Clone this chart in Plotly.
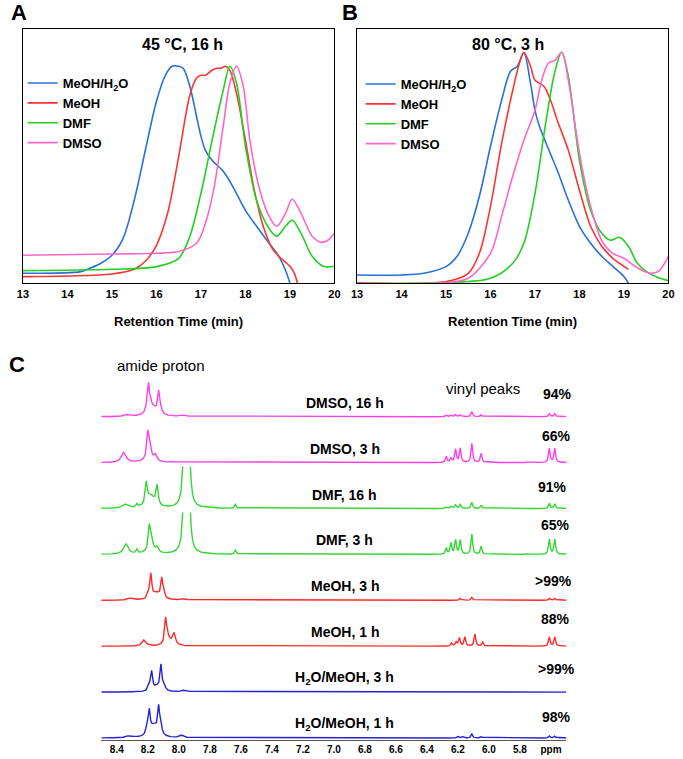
import numpy as np
import plotly.graph_objects as go

W, H = 683, 759
FONT = "Liberation Sans, Arial, sans-serif"

# ---------------- GPC data (retention time in min, detector signal in a.u.) ----------------
GPC_A_LEGEND = ["MeOH/H<sub>2</sub>O", "MeOH", "DMF", "DMSO"]
GPC_COLORS = ["#2a70d6", "#ff3333", "#22d022", "#ff66c8"]

A_BLUE_T = [13.0, 14.3, 14.5, 14.75, 15.0, 15.25, 15.5, 15.75, 16.0, 16.2, 16.35, 16.5, 16.6, 16.75, 16.9,
            17.0, 17.1, 17.25, 17.5, 17.7, 18.0, 18.25, 18.5, 18.75, 18.9, 19.0]
A_BLUE_S = [10, 11.7, 15, 20, 28, 45, 83, 133, 182, 208, 217, 217, 215, 197, 167,
            147, 133, 123, 112, 98, 73, 57, 42, 27, 13, 0]
A_RED_T = [13.0, 14.0, 15.0, 15.5, 15.75, 16.0, 16.25, 16.5, 16.75, 16.9, 17.0, 17.1, 17.25, 17.35, 17.45,
           17.55, 17.65, 17.8, 18.0, 18.2, 18.4, 18.6, 18.75, 19.0, 19.1, 19.17]
A_RED_S = [6.7, 7.3, 9.3, 14, 22, 38, 70, 127, 188, 205, 208, 208, 213, 215, 215,
           217, 213, 190, 143, 93, 57, 35, 27, 17, 10, 0]
A_GREEN_T = [13.0, 15.0, 16.0, 16.5, 16.75, 17.0, 17.25, 17.5, 17.65, 17.8, 18.0, 18.25, 18.5, 18.7,
             18.9, 19.05, 19.25, 19.5, 19.75, 20.0]
A_GREEN_S = [12.7, 14, 16.7, 25, 47, 90, 143, 193, 217, 200, 137, 83, 57, 47,
             57, 63, 50, 27, 17, 17]
A_PINK_T = [13.0, 15.0, 16.0, 16.5, 16.9, 17.1, 17.3, 17.5, 17.65, 17.8, 17.95, 18.1, 18.3, 18.5, 18.7,
            18.9, 19.05, 19.25, 19.5, 19.7, 19.85, 20.0]
A_PINK_S = [28, 29.3, 30, 31.7, 40, 60, 97, 157, 200, 217, 197, 143, 97, 70, 57,
            70, 84, 70, 47, 41, 43, 50]

B_BLUE_T = [13.0, 14.0, 14.5, 15.0, 15.25, 15.5, 15.75, 16.0, 16.25, 16.45, 16.6, 16.75, 16.9, 17.0,
            17.1, 17.25, 17.5, 17.75, 18.0, 18.25, 18.5, 18.75, 19.0, 19.1]
B_BLUE_S = [8.3, 8.3, 10, 16.7, 27, 50, 87, 137, 183, 212, 217, 230, 200, 173,
            157, 140, 113, 83, 57, 40, 27, 17, 6.7, 0]
B_RED_T = [13.0, 15.0, 15.5, 15.75, 16.0, 16.25, 16.5, 16.65, 16.75, 16.9, 17.0, 17.2, 17.35, 17.5,
           17.75, 18.0, 18.25, 18.5, 18.75, 19.0, 19.1]
B_RED_S = [0.7, 1.7, 10, 30, 77, 140, 193, 220, 231, 217, 203, 197, 183, 163,
           133, 93, 57, 37, 25, 17, 14]
B_GREEN_T = [13.0, 15.0, 16.0, 16.5, 16.75, 17.0, 17.25, 17.45, 17.6, 17.75, 18.0, 18.25, 18.5, 18.7,
             18.9, 19.1, 19.3, 19.5, 19.75, 20.0]
B_GREEN_S = [0, 0.7, 5, 20, 40, 90, 163, 212, 231, 207, 123, 73, 50, 43,
             46, 37, 20, 12, 6, 2.7]
B_PINK_T = [13.0, 15.0, 15.5, 16.0, 16.25, 16.5, 16.75, 17.0, 17.15, 17.3, 17.45, 17.6, 17.75, 18.0,
            18.25, 18.5, 18.75, 19.0, 19.25, 19.5, 19.65, 19.8, 20.0]
B_PINK_S = [0, 0.7, 5, 30, 67, 107, 143, 173, 203, 220, 223, 231, 203, 130,
            77, 43, 30, 25, 17, 11, 10, 13, 27]

GPC_TICKS = [13, 14, 15, 16, 17, 18, 19, 20]

# ---------------- NMR data: peaks as (ppm, height, half-width) ----------------
NMR_LABELS = ["H<sub>2</sub>O/MeOH, 1 h", "H<sub>2</sub>O/MeOH, 3 h", "MeOH, 1 h", "MeOH, 3 h",
              "DMF, 3 h", "DMF, 16 h", "DMSO, 3 h", "DMSO, 16 h"]
NMR_PERCENT = ["98%", ">99%", "88%", ">99%", "65%", "91%", "66%", "94%"]
NMR_COLORS = ["#2222d8", "#2222d8", "#ff2a2a", "#ff2a2a", "#33d633", "#33d633", "#ff3ee6", "#ff3ee6"]

PEAKS_H2O_1H = [(8.32, 2, 0.02), (8.16, 12, 0.03), (8.19, 21.5, 0.007), (8.13, 25.5, 0.007),
                (8.205, 8, 0.008), (8.115, 8, 0.008), (7.98, 2.5, 0.015),
                (6.2, 1.5, 0.006), (6.17, 1.5, 0.006), (6.11, 4, 0.006), (6.05, 1.5, 0.006),
                (5.61, 2, 0.006), (5.575, 2, 0.006)]
PEAKS_H2O_3H = [(8.14, 5, 0.03), (8.175, 18, 0.007), (8.115, 24, 0.007), (8.19, 5, 0.008),
                (8.095, 6, 0.008), (7.96, 2, 0.02)]
PEAKS_MEOH_1H = [(8.225, 6, 0.015), (8.085, 23, 0.007), (8.075, 6, 0.012), (8.03, 11, 0.01),
                 (8.06, 4, 0.03),
                 (6.24, 3, 0.006), (6.21, 4, 0.006), (6.19, 8, 0.006), (6.155, 9, 0.006),
                 (6.09, 12, 0.006), (6.04, 4, 0.006), (5.61, 9, 0.006), (5.575, 9, 0.006)]
PEAKS_MEOH_3H = [(8.31, 2, 0.02), (8.145, 7, 0.03), (8.18, 23, 0.007), (8.11, 19, 0.007),
                 (8.195, 5, 0.008), (8.095, 5, 0.008), (7.97, 1.5, 0.02),
                 (6.185, 2, 0.006), (6.11, 3, 0.006), (5.61, 2, 0.006), (5.575, 2, 0.006)]
PEAKS_DMF_3H = [(8.34, 10, 0.018), (8.27, 4, 0.006), (8.18, 6, 0.03), (8.19, 23, 0.007),
                (8.175, 8, 0.008), (8.14, 5, 0.01), (7.96, 250, 0.006), (7.94, 250, 0.006),
                (7.635, 4, 0.006),
                (6.275, 6, 0.006), (6.245, 11, 0.006), (6.215, 14, 0.006), (6.185, 14, 0.006),
                (6.11, 20, 0.006), (6.05, 8, 0.006), (5.75, 1, 0.006), (5.61, 15, 0.006),
                (5.575, 15, 0.006)]
PEAKS_DMF_16H = [(8.34, 4, 0.02), (8.27, 3, 0.006), (8.18, 12, 0.03), (8.21, 21, 0.008),
                 (8.14, 19, 0.008), (7.96, 250, 0.006), (7.94, 250, 0.006), (7.635, 4, 0.006),
                 (6.275, 1.5, 0.006), (6.245, 2, 0.006), (6.215, 3.5, 0.006), (6.185, 4, 0.006),
                 (6.11, 6, 0.006), (6.05, 3, 0.006), (5.61, 5, 0.006), (5.575, 4, 0.006)]
PEAKS_DMSO_3H = [(8.355, 10, 0.018), (8.19, 6, 0.03), (8.20, 25, 0.007), (8.185, 9, 0.008),
                 (8.15, 6, 0.01),
                 (6.275, 6, 0.006), (6.245, 4, 0.006), (6.215, 13, 0.006), (6.185, 14, 0.006),
                 (6.11, 19, 0.006), (6.05, 9, 0.006), (5.75, 1, 0.006), (5.61, 14, 0.006),
                 (5.575, 14, 0.006)]
PEAKS_DMSO_16H = [(8.33, 2, 0.02), (8.165, 8, 0.035), (8.205, 6, 0.012), (8.195, 25, 0.007),
                  (8.18, 5, 0.007), (8.13, 19, 0.007), (8.12, 5, 0.012), (7.97, 1.5, 0.02),
                  (6.275, 1.5, 0.006), (6.245, 1.5, 0.006), (6.215, 2, 0.006), (6.185, 2, 0.006),
                  (6.11, 5, 0.006), (6.05, 2, 0.006), (5.61, 3, 0.006), (5.575, 3, 0.006)]
NMR_PEAKS = [PEAKS_H2O_1H, PEAKS_H2O_3H, PEAKS_MEOH_1H, PEAKS_MEOH_3H,
             PEAKS_DMF_3H, PEAKS_DMF_16H, PEAKS_DMSO_3H, PEAKS_DMSO_16H]
NMR_TICKS = [8.4, 8.2, 8.0, 7.8, 7.6, 7.4, 7.2, 7.0, 6.8, 6.6, 6.4, 6.2, 6.0, 5.8, 5.6]
NMR_TICKTEXT = ["8.4", "8.2", "8.0", "7.8", "7.6", "7.4", "7.2", "7.0", "6.8", "6.6", "6.4",
                "6.2", "6.0", "5.8", "ppm"]
CLIP = 43.0  # truncated solvent peak height

# ---------------- helpers ----------------
def px(x):
    return x / W


def py(y):
    return 1 - y / H


fig = go.Figure()

gpc_sets = [
    ("A", [(A_BLUE_T, A_BLUE_S), (A_RED_T, A_RED_S), (A_GREEN_T, A_GREEN_S), (A_PINK_T, A_PINK_S)]),
    ("B", [(B_BLUE_T, B_BLUE_S), (B_RED_T, B_RED_S), (B_GREEN_T, B_GREEN_S), (B_PINK_T, B_PINK_S)]),
]
for pi, (panel, series) in enumerate(gpc_sets):
    xa = "x" if pi == 0 else "x2"
    ya = "y" if pi == 0 else "y2"
    lg = "legend" if pi == 0 else "legend2"
    for si, (t, s) in enumerate(series):
        fig.add_trace(go.Scatter(
            x=t, y=s, mode="lines", name=GPC_A_LEGEND[si],
            line=dict(color=GPC_COLORS[si], width=1.6, shape="spline", smoothing=0.9),
            xaxis=xa, yaxis=ya, legend=lg, showlegend=True, hoverinfo="skip"))

ppm = np.round(np.arange(5.5, 8.5005, 0.001), 4)
SPACING = 45.9
for k, peaks in enumerate(NMR_PEAKS):
    sig = np.zeros_like(ppm)
    for c, h, w in peaks:
        sig += h * w * w / ((ppm - c) ** 2 + w * w)
    vals = np.where(sig > CLIP, np.nan, sig)
    yv = [None if np.isnan(v) else float(v + 2 + k * SPACING) for v in vals]
    fig.add_trace(go.Scatter(
        x=ppm, y=yv, mode="lines", line=dict(color=NMR_COLORS[k], width=1.4),
        xaxis="x3", yaxis="y3", showlegend=False, connectgaps=False, hoverinfo="skip"))

gpc_y_dom = [py(283.3), py(29.3)]
frame = dict(showline=True, mirror=True, linecolor="black", linewidth=1.3,
             showgrid=False, zeroline=False)
fig.update_layout(
    width=W, height=H, margin=dict(l=0, r=0, t=0, b=0),
    paper_bgcolor="white", plot_bgcolor="white",
    font=dict(family=FONT, color="black"),
    xaxis=dict(domain=[px(17.3), px(334.3)], range=[13, 20], anchor="y", tickvals=GPC_TICKS,
               ticks="", tickfont=dict(size=11, weight="bold"), **frame),
    yaxis=dict(domain=gpc_y_dom, range=[0, 254], anchor="x", showticklabels=False, ticks="", **frame),
    xaxis2=dict(domain=[px(357.3), px(674.3)], range=[13, 20], anchor="y2", tickvals=GPC_TICKS,
                ticks="", tickfont=dict(size=11, weight="bold"), **frame),
    yaxis2=dict(domain=gpc_y_dom, range=[0, 254], anchor="x2", showticklabels=False, ticks="", **frame),
    xaxis3=dict(domain=[px(97), px(570.5)], range=[8.5, 5.5], anchor="y3", tickvals=NMR_TICKS,
                ticktext=NMR_TICKTEXT, ticks="", showline=True, linecolor="#555555", linewidth=1,
                showgrid=False, zeroline=False, tickfont=dict(size=10, weight="bold")),
    yaxis3=dict(domain=[py(740), py(375)], range=[0, 365], anchor="x3", visible=False),
    legend=dict(x=px(17), y=py(68), xanchor="left", yanchor="top", bgcolor="rgba(0,0,0,0)",
                font=dict(size=13, weight="bold"), tracegroupgap=0),
    legend2=dict(x=px(361), y=py(69), xanchor="left", yanchor="top", bgcolor="rgba(0,0,0,0)",
                 font=dict(size=13, weight="bold"), tracegroupgap=0),
)

ann = []


def text(x, y, s, size, bold=True, xanchor="center"):
    ann.append(dict(x=px(x), y=py(y), xref="paper", yref="paper", text=s, showarrow=False,
                    xanchor=xanchor, yanchor="middle",
                    font=dict(size=size, family=FONT, color="black", weight="bold" if bold else "normal")))


text(13, 12, "A", 22)
text(350, 12, "B", 22)
text(11, 364, "C", 22)
text(180, 45, "45 °C, 16 h", 16)
text(511, 45, "80 °C, 3 h", 16)
text(175.8, 321, "Retention Time (min)", 13)
text(515.8, 321, "Retention Time (min)", 13)
text(158, 365, "amide proton", 15, bold=False)
text(486, 388, "vinyl peaks", 15, bold=False)

baselines_px = [740 - (2 + k * SPACING) for k in range(8)]
pct_offsets = [21, 23, 27, 19, 29, 22, 27, 23]
pct_x = [560, 560, 559, 557, 559, 556, 560, 561]
for k in range(8):
    b = baselines_px[k]
    text(345, b - 14, NMR_LABELS[k], 14)
    text(pct_x[k], b - pct_offsets[k], NMR_PERCENT[k], 14)

fig.update_layout(annotations=ann)
fig.write_html("out.html", config={"displayModeBar": False},
               post_script="document.body.style.margin='0';document.body.style.padding='0';")
